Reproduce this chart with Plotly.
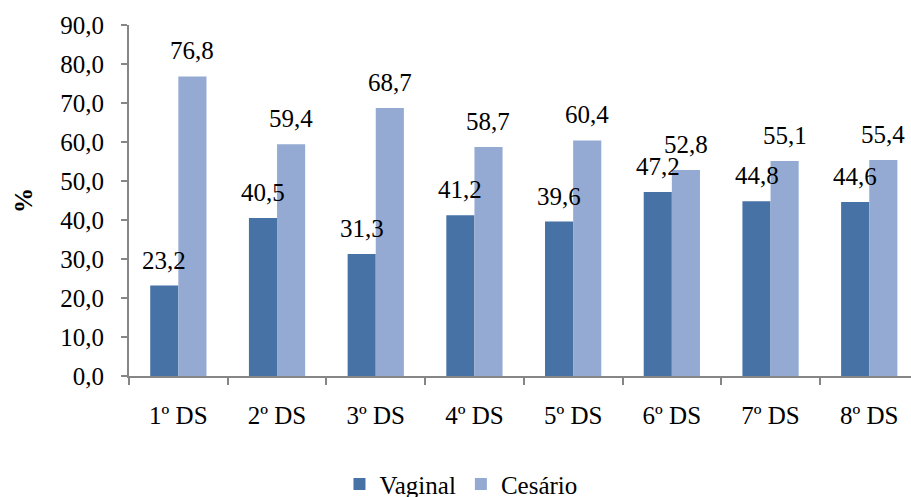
import plotly.graph_objects as go

# Share of births by delivery type per health district
categorias = ["1º DS", "2º DS", "3º DS", "4º DS", "5º DS", "6º DS", "7º DS", "8º DS"]
vaginal = [23.2, 40.5, 31.3, 41.2, 39.6, 47.2, 44.8, 44.6]
cesario = [76.8, 59.4, 68.7, 58.7, 60.4, 52.8, 55.1, 55.4]
y_ticks = [0, 10, 20, 30, 40, 50, 60, 70, 80, 90]

COR_VAGINAL = "#4672A6"
COR_CESARIO = "#94AAD3"
FONTE = "Liberation Serif"
EIXO = "#868686"


def fmt(v):
    return f"{v:.1f}".replace(".", ",")


fig = go.Figure()
fig.add_trace(go.Bar(name="Vaginal", x=categorias, y=vaginal,
                     marker=dict(color=COR_VAGINAL, line=dict(width=0))))
fig.add_trace(go.Bar(name="Cesário", x=categorias, y=cesario,
                     marker=dict(color=COR_CESARIO, line=dict(width=0))))

# value labels above each bar
annotations = []
for serie, dx in ((vaginal, -14), (cesario, 14)):
    for cat, v in zip(categorias, serie):
        annotations.append(dict(
            x=cat, y=v, xref="x", yref="y", text=fmt(v), showarrow=False,
            xshift=dx, yshift=10, yanchor="bottom",
            font=dict(family=FONTE, size=25, color="#000000"),
        ))

# y-axis title
annotations.append(dict(
    x=-0.1555, y=0.501, xref="paper", yref="paper", text="<b>%</b>",
    textangle=-90, showarrow=False,
    font=dict(family=FONTE, size=25, color="#000000"),
))

fig.update_layout(
    width=911, height=497,
    margin=dict(l=129, r=0, t=25, b=121),
    paper_bgcolor="white", plot_bgcolor="white",
    barmode="group", bargap=0.43, bargroupgap=0,
    font=dict(family=FONTE, size=25, color="#000000"),
    showlegend=True,
    legend=dict(orientation="h", xref="container", yref="container",
                x=0.506, xanchor="center", y=0.072, yanchor="top",
                font=dict(family=FONTE, size=25, color="#000000"),
                itemwidth=30, tracegroupgap=0),
    annotations=annotations,
    xaxis=dict(
        range=[-0.5, 7.423], showgrid=False, zeroline=False,
        showline=True, linecolor=EIXO, linewidth=2,
        ticks="outside", tickson="boundaries", ticklen=7, tickwidth=2,
        tickcolor=EIXO, ticklabelstandoff=16,
        tickfont=dict(family=FONTE, size=25, color="#000000"),
    ),
    yaxis=dict(
        range=[0, 90], tickvals=y_ticks, ticktext=[fmt(v) for v in y_ticks],
        showgrid=False, zeroline=False, showline=True, linecolor=EIXO,
        linewidth=2, ticks="outside", ticklen=6, tickwidth=2, tickcolor=EIXO,
        ticklabelstandoff=12,
        tickfont=dict(family=FONTE, size=25, color="#000000"),
    ),
)

fig.write_html("out.html")
